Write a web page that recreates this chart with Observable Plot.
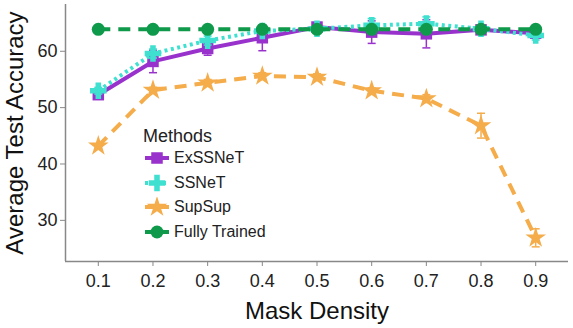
<!DOCTYPE html>
<html>
<head>
<meta charset="utf-8">
<script src="https://cdn.jsdelivr.net/npm/d3@7"></script>
<script src="https://cdn.jsdelivr.net/npm/@observablehq/plot@0.6"></script>
<style>
  html, body { margin: 0; padding: 0; background: #fff; }
  #wrap { position: relative; width: 573px; height: 328px; font-family: "Liberation Sans", Arial, sans-serif; }
  #legend { position: absolute; left: 143px; top: 122px; color: #222; }
  #legend .title { font-size: 18px; line-height: 24px; position: relative; top: 2px; }
  #legend .row { display: flex; align-items: center; height: 24.6px; font-size: 16px; }
  #legend svg { margin-right: 5px; }
</style>
</head>
<body>
<div id="wrap"><div id="legend"></div></div>
<script>
const density = [0.1, 0.2, 0.3, 0.4, 0.5, 0.6, 0.7, 0.8, 0.9];
const exssnet = [52.3, 58.2, 60.5, 62.4, 64.3, 63.4, 63.1, 63.8, 63.2];
const exssnetErr = [0.6, 2.0, 1.2, 2.3, 0.5, 2.0, 2.5, 0.5, 0.8];
const ssnet = [53.0, 59.6, 61.9, 63.6, 64.0, 64.6, 64.9, 64.0, 62.8];
const ssnetErr = [0.6, 0.8, 0.8, 0.6, 0.5, 1.2, 1.2, 0.6, 0.8];
const supsup = [43.2, 53.1, 54.4, 55.6, 55.4, 53.0, 51.6, 46.8, 26.9];
const supsupErr = [0.4, 0.5, 0.6, 0.6, 0.6, 0.5, 0.7, 2.2, 1.6];
const fully = [63.9, 63.9, 63.9, 63.9, 63.9, 63.9, 63.9, 63.9, 63.9];
const fullyErr = [0, 0, 0, 0, 0, 0, 0, 0, 0];
const methods = ["ExSSNeT", "SSNeT", "SupSup", "Fully Trained"];
const colors = ["#9932CC", "#40E0D0", "#F5AC4A", "#0E9A4A"];
const dashes = [null, "3,3.5", "12,8", "12,8"];
const symbols = ["square", "cross", "star", "circle"];
const radii = [6.5, 7, 6.5, 6.5];
const yTicks = [30, 40, 50, 60];

const series = [exssnet, ssnet, supsup, fully];
const errs = [exssnetErr, ssnetErr, supsupErr, fullyErr];

const capSymbol = { draw(ctx, size) { const w = 4; ctx.moveTo(-w, 0); ctx.lineTo(w, 0); } };

const marks = [];
series.forEach((vals, i) => {
  const data = density.map((d, j) => ({ x: d, y: vals[j], lo: vals[j] - errs[i][j], hi: vals[j] + errs[i][j], e: errs[i][j] }));
  const ed = data.filter(d => d.e > 0);
  marks.push(Plot.line(data, { x: "x", y: "y", stroke: colors[i], strokeWidth: 4, strokeDasharray: dashes[i], strokeLinecap: "butt" }));
  marks.push(Plot.ruleX(ed, { x: "x", y1: "lo", y2: "hi", stroke: colors[i], strokeWidth: 1.5 }));
  marks.push(Plot.dot(ed, { x: "x", y: "lo", symbol: capSymbol, stroke: colors[i], strokeWidth: 1.5 }));
  marks.push(Plot.dot(ed, { x: "x", y: "hi", symbol: capSymbol, stroke: colors[i], strokeWidth: 1.5 }));
  marks.push(Plot.dot(data, { x: "x", y: "y", symbol: symbols[i], r: radii[i], fill: colors[i] }));
});

const chart = Plot.plot({
  width: 573,
  height: 328,
  marginLeft: 65,
  marginTop: 4,
  marginRight: 5,
  marginBottom: 67,
  style: { fontFamily: "Liberation Sans, Arial, sans-serif", fontSize: "18px", color: "#222", background: "#fff", overflow: "visible" },
  x: { domain: [0.04, 0.96], label: null },
  y: { domain: [22.7, 68.3], label: null },
  marks: [
    Plot.axisY(yTicks, { tickSize: 5, tickPadding: 3, stroke: "#888", fontSize: 18, fill: "#222", label: null }),
    Plot.axisX(density, { tickSize: 5, tickPadding: 8, stroke: "#888", fontSize: 18, fill: "#222", tickFormat: d => d.toFixed(1), label: null }),
    Plot.ruleX([0.04], { stroke: "#888", strokeWidth: 1.5 }),
    Plot.ruleY([22.7], { stroke: "#888", strokeWidth: 1.5 }),
    Plot.text(["Average Test Accuracy"], { frameAnchor: "left", textAnchor: "middle", dx: -50, rotate: -90, fontSize: 24, fill: "#111" }),
    Plot.text(["Mask Density"], { frameAnchor: "bottom", dy: 57, fontSize: 24, fill: "#111" }),
    ...marks
  ]
});
document.getElementById("wrap").prepend(chart);

// legend
const legend = document.getElementById("legend");
const t = document.createElement("div");
t.className = "title";
t.textContent = "Methods";
legend.appendChild(t);
methods.forEach((m, i) => {
  const row = document.createElement("div");
  row.className = "row";
  const s = d3.create("svg").attr("width", 26).attr("height", 20);
  s.append("line").attr("x1", 2).attr("x2", 26).attr("y1", 10).attr("y2", 10)
    .attr("stroke", colors[i]).attr("stroke-width", 4).attr("stroke-dasharray", i === 1 ? "3,3" : null);
  const sym = d3.symbol().type({square: d3.symbolSquare, cross: d3.symbolCross, star: d3.symbolStar, circle: d3.symbolCircle}[symbols[i]]).size(Math.PI * radii[i] * radii[i]);
  s.append("path").attr("d", sym()).attr("transform", "translate(14,10)").attr("fill", colors[i]);
  row.appendChild(s.node());
  const tx = document.createElement("span");
  tx.textContent = m;
  row.appendChild(tx);
  legend.appendChild(row);
});
</script>
</body>
</html>
